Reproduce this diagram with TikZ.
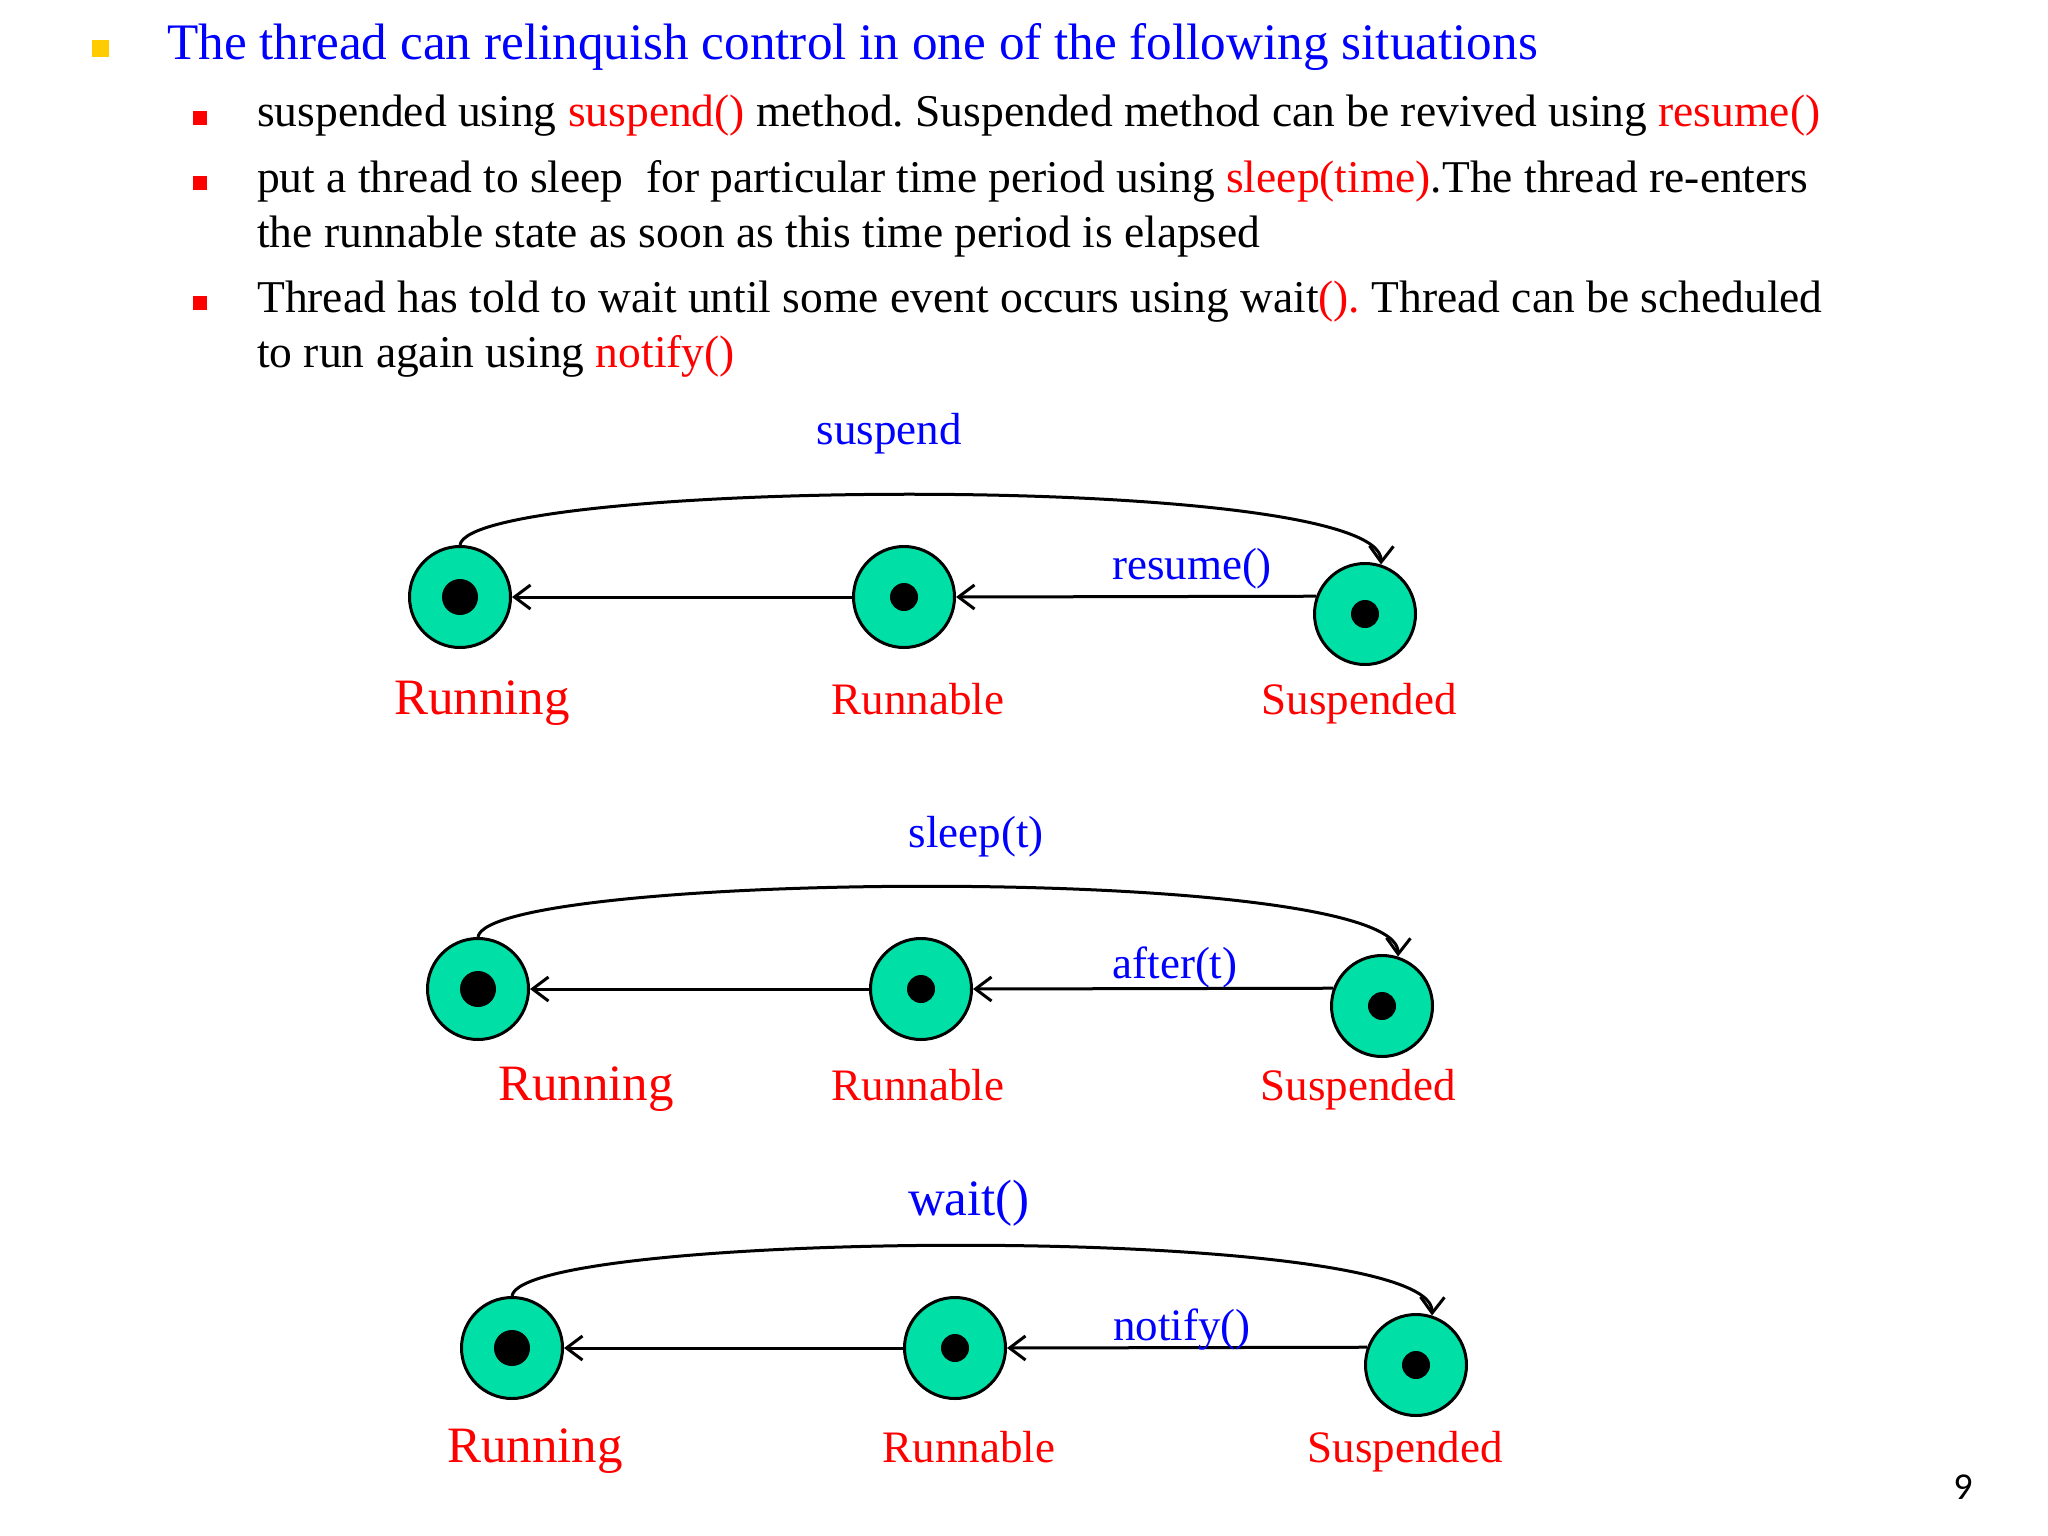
\documentclass[tikz,border=0pt]{standalone}
\usepackage{fontspec}
\setmainfont{Liberation Serif}
\newfontfamily\pagenofont{Carlito}
\usetikzlibrary{arrows.meta,positioning}
\frenchspacing
\definecolor{stategreen}{RGB}{0,224,166}
\definecolor{headblue}{RGB}{0,0,255}
\definecolor{keyred}{RGB}{255,0,0}
\definecolor{topyellow}{RGB}{255,204,0}
\newcommand{\headsize}{\fontsize{51.2}{62}\selectfont}
\newcommand{\bodysize}{\fontsize{45.5}{55}\selectfont}
\newcommand{\labelsize}{\fontsize{45}{55}\selectfont}
\newcommand{\bigsize}{\fontsize{51}{60}\selectfont}
\newcommand{\kw}[1]{\textcolor{keyred}{#1}}
\tikzset{
  state/.style={circle, draw, line width=3pt, fill=stategreen, minimum size=101pt, inner sep=0pt},
  eye/.style={circle, fill=black, inner sep=0pt, minimum size=#1},
  ybullet/.style={rectangle, fill=topyellow, minimum size=17pt, inner sep=0pt},
  rbullet/.style={rectangle, fill=keyred, minimum size=14pt, inner sep=0pt},
  line/.style={anchor=base west, inner sep=0pt, font=\bodysize},
  statename/.style={anchor=base, inner sep=0pt, text=keyred, font=\labelsize},
  trans/.style={anchor=base, inner sep=0pt, text=headblue, font=\labelsize},
  arr/.style={-{Straight Barb[length=16pt, width=24pt, line width=3pt]}, line width=3pt}
}
\begin{document}
\begin{tikzpicture}[x=1pt, y=-1pt]
\useasboundingbox (0,0) rectangle (2048,1536);

% bullet text
\node[ybullet] (b0) at (100,48.5) {};
\node[line, font=\headsize, text=headblue] (head) at (167,60) {The thread can relinquish control in one of the following situations};
\node[rbullet] (b1) at (200,118) {};
\node[line] (t1) at (257,127) {suspended using \kw{suspend()} method. Suspended method can be revived using \kw{resume()}};
\node[rbullet] (b2) at (200,183) {};
\node[line] (t2a) at (257,192) {put a thread to sleep \ for particular time period using \kw{sleep(time)}.The thread re-enters};
\node[line] (t2b) at (257,247) {the runnable state as soon as this time period is elapsed};
\node[rbullet] (b3) at (200,303) {};
\node[line] (t3a) at (257,312) {Thread has told to wait until some event occurs using wait\kw{().} Thread can be scheduled};
\node[line] (t3b) at (257,367) {to run again using \kw{notify()}};

% suspend / resume
\node[state] (run1) at (460,597) {};
\node[state] (rbl1) at (904,597) {};
\node[state] (susp1) at (1365,614) {};
\node[eye=36pt] (run1eye) at (run1) {};
\node[eye=28pt] (rbl1eye) at (rbl1) {};
\node[eye=28pt] (susp1eye) at (susp1) {};
\node[statename, font=\bigsize] (run1name) at (482,714) {Running};
\node[statename] (rbl1name) at (918,714) {Runnable};
\node[statename] (susp1name) at (1359,714) {Suspended};
\node[trans] (suspend1) at (889,444) {suspend};
\draw[arr] (rbl1.west) -- (run1.east);
\draw[arr] (susp1.160) -- (rbl1.east);
\node[trans] (resume1) at (1192,579) {resume()};
\draw[arr] (run1.north) .. controls +(10,-66) and +(2,-94) .. (susp1.72);

% sleep / after
\node[state] (run2) at (478,989) {};
\node[state] (rbl2) at (921,989) {};
\node[state] (susp2) at (1382,1006) {};
\node[eye=36pt] (run2eye) at (run2) {};
\node[eye=28pt] (rbl2eye) at (rbl2) {};
\node[eye=28pt] (susp2eye) at (susp2) {};
\node[statename, font=\bigsize] (run2name) at (586,1100) {Running};
\node[statename] (rbl2name) at (918,1100) {Runnable};
\node[statename] (susp2name) at (1358,1100) {Suspended};
\node[trans] (sleep2) at (976,847) {sleep(t)};
\draw[arr] (rbl2.west) -- (run2.east);
\draw[arr] (susp2.160) -- (rbl2.east);
\node[trans] (after2) at (1175,978) {after(t)};
\draw[arr] (run2.north) .. controls +(10,-66) and +(2,-94) .. (susp2.72);

% wait / notify
\node[state] (run3) at (512,1348) {};
\node[state] (rbl3) at (955,1348) {};
\node[state] (susp3) at (1416,1365) {};
\node[eye=36pt] (run3eye) at (run3) {};
\node[eye=28pt] (rbl3eye) at (rbl3) {};
\node[eye=28pt] (susp3eye) at (susp3) {};
\node[statename, font=\bigsize] (run3name) at (535,1462) {Running};
\node[statename] (rbl3name) at (969,1462) {Runnable};
\node[statename] (susp3name) at (1405,1462) {Suspended};
\node[trans, font=\bigsize] (wait3) at (969,1215) {wait()};
\draw[arr] (rbl3.west) -- (run3.east);
\draw[arr] (susp3.160) -- (rbl3.east);
\node[trans] (notify3) at (1182,1340) {notify()};
\draw[arr] (run3.north) .. controls +(10,-66) and +(2,-94) .. (susp3.72);

\node[anchor=base, inner sep=0pt, font=\pagenofont\fontsize{38}{44}\selectfont] (pageno) at (1963,1499) {9};
\end{tikzpicture}
\end{document}
